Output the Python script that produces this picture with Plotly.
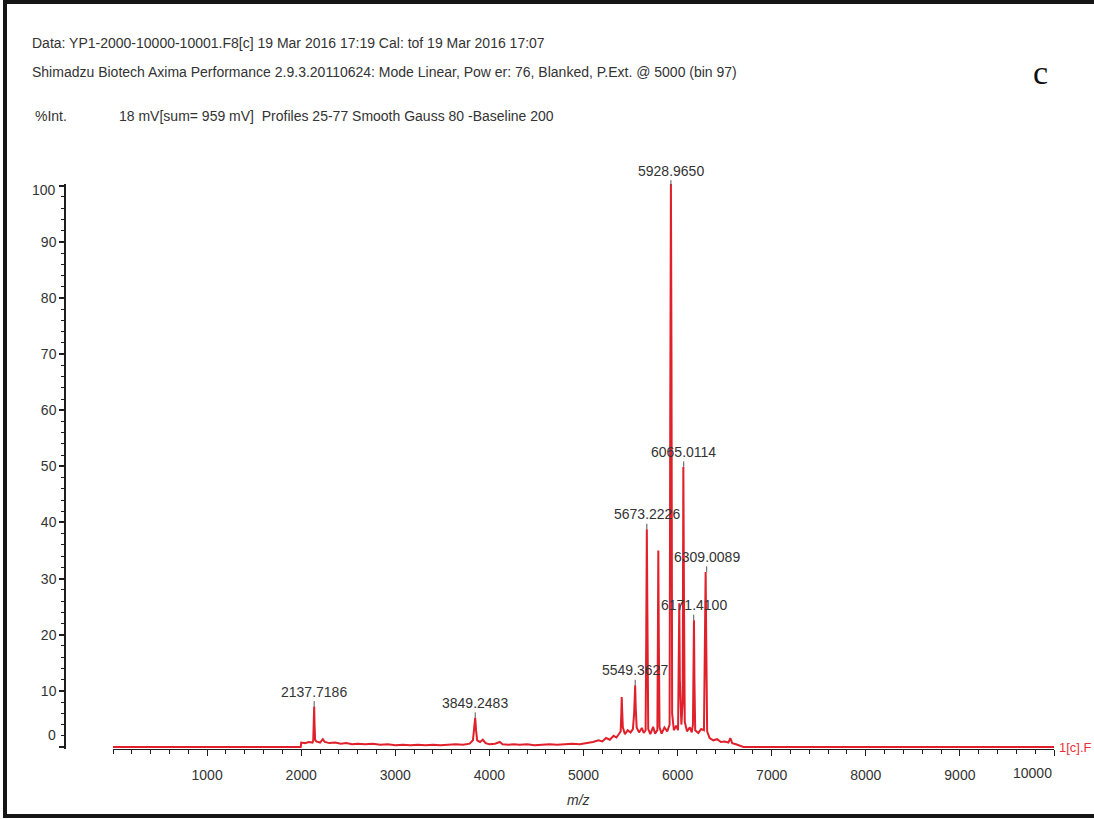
import plotly.graph_objects as go

# ---------------- data ----------------
mz_values = [
    0, 1995, 2000, 2040, 2080, 2120, 2128, 2134, 2138, 2142, 2148, 2160, 2200, 2230, 2250,
    2300, 2360, 2420, 2480, 2540, 2600, 2680, 2760, 2840, 2920, 3000, 3080, 3160, 3240,
    3320, 3400, 3480, 3560, 3640, 3720, 3790, 3825, 3838, 3849, 3858, 3870, 3900, 3930,
    3960, 4000, 4060, 4110, 4140, 4200, 4260, 4320, 4400, 4480, 4560, 4640, 4720, 4800,
    4880, 4960, 5040, 5100, 5160, 5200, 5240, 5280, 5320, 5350, 5380,
    5395, 5402, 5406, 5411, 5418, 5440, 5470, 5500, 5525, 5538, 5544, 5549, 5555, 5565,
    5590, 5620, 5640, 5660, 5667, 5673, 5679, 5688, 5710, 5740, 5760, 5785, 5790, 5795,
    5800, 5808, 5830, 5860, 5890, 5915, 5922, 5929, 5935, 5942, 5960, 5985, 6005, 6012,
    6018, 6024, 6040, 6054, 6061, 6068, 6076, 6100, 6130, 6150, 6163, 6169, 6174, 6179,
    6187, 6220, 6250, 6280, 6291, 6298, 6305, 6314, 6340, 6380, 6420, 6460, 6500, 6540,
    6560, 6580, 6620, 6660, 6700, 10000,
]
intensity_values = [
    0.0, 0.0, 0.8, 0.7, 0.9, 0.8, 1.2, 4.5, 7.2, 4.0, 1.3, 1.0, 0.8, 1.4, 0.9,
    0.7, 0.8, 0.6, 0.7, 0.5, 0.6, 0.5, 0.6, 0.4, 0.5, 0.3, 0.4, 0.3, 0.4,
    0.3, 0.4, 0.3, 0.4, 0.5, 0.4, 0.6, 1.2, 3.2, 5.2, 3.0, 1.2, 0.9, 1.3,
    0.7, 0.5, 0.6, 0.9, 0.5, 0.4, 0.5, 0.4, 0.5, 0.3, 0.4, 0.5, 0.4, 0.5,
    0.6, 0.5, 0.7, 0.9, 1.2, 1.0, 1.6, 1.3, 2.0, 1.7, 2.4,
    2.8, 6.0, 8.9, 6.5, 3.5, 2.3, 3.0, 2.6, 3.2, 6.0, 10.2, 11.0, 7.0, 3.5,
    2.6, 3.4, 2.5, 3.0, 20.0, 38.8, 24.0, 3.2, 2.3, 3.6, 2.4, 3.0, 18.0, 35.0,
    20.0, 3.5, 2.4, 3.5, 2.8, 4.0, 60.0, 100.5, 70.0, 6.0, 3.0, 3.8, 3.0, 14.0,
    25.6, 12.0, 4.0, 8.0, 49.9, 26.0, 4.5, 2.8, 3.5, 2.6, 4.0, 14.0, 22.6, 12.0,
    3.0, 2.5, 3.2, 3.0, 16.0, 31.2, 18.0, 2.8, 1.6, 1.2, 1.4, 0.9, 1.0, 0.8,
    1.6, 0.7, 0.5, 0.3, 0.0, 0.0,
]

peak_labels = ["2137.7186", "3849.2483", "5549.3627", "5673.2226",
               "5928.9650", "6065.0114", "6171.4100", "6309.0089"]
peak_mz = [2137.7186, 3849.2483, 5549.3627, 5673.2226,
           5928.9650, 6065.0114, 6171.4100, 6309.0089]
peak_intensity = [7.2, 5.2, 11.0, 38.8, 100.0, 49.9, 22.6, 31.2]

x_tick_values = [1000, 2000, 3000, 4000, 5000, 6000, 7000, 8000, 9000, 10000]
x_tick_labels = ["1000", "2000", "3000", "4000", "5000", "6000", "7000", "8000", "9000", ""]
y_tick_values = [0, 10, 20, 30, 40, 50, 60, 70, 80, 90, 100]
y_tick_labels = ["", "10", "20", "30", "40", "50", "60", "70", "80", "90", ""]

header_line1 = "Data: YP1-2000-10000-10001.F8[c] 19 Mar 2016 17:19 Cal: tof 19 Mar 2016 17:07"
header_line2 = ("Shimadzu Biotech Axima Performance 2.9.3.20110624: Mode Linear, Pow er: 76, "
                "Blanked, P.Ext. @ 5000 (bin 97)")
header_line3 = "18 mV[sum= 959 mV]  Profiles 25-77 Smooth Gauss 80 -Baseline 200"

# ---------------- styling ----------------
FONT = "Liberation Sans, Arial, sans-serif"
TXT = "#333333"
RED = "#e0202a"
AX = "#1e1e1e"
FS = 14

fig = go.Figure()
fig.add_trace(go.Scatter(
    x=mz_values, y=intensity_values, mode="lines",
    line=dict(color=RED, width=2), hoverinfo="x+y", showlegend=False,
))

annotations = []
for lab, xm, yi in zip(peak_labels, peak_mz, peak_intensity):
    annotations.append(dict(
        x=xm, y=yi, xref="x", yref="y", text=lab, showarrow=True,
        arrowhead=0, arrowwidth=1, arrowcolor="#555555", ax=0, ay=-15,
        font=dict(family=FONT, size=FS, color=TXT),
    ))

def px_x(px):
    return (px - 65) / 989.0

def px_y(py):
    return (749 - py) / 565.0

annotations += [
    dict(x=px_x(30), y=px_y(43), xref="paper", yref="paper", text=header_line1,
         showarrow=False, xanchor="left", yanchor="middle",
         font=dict(family=FONT, size=FS, color=TXT)),
    dict(x=px_x(30), y=px_y(72), xref="paper", yref="paper", text=header_line2,
         showarrow=False, xanchor="left", yanchor="middle",
         font=dict(family=FONT, size=FS, color=TXT)),
    dict(x=px_x(33), y=px_y(116), xref="paper", yref="paper", text="%Int.",
         showarrow=False, xanchor="left", yanchor="middle",
         font=dict(family=FONT, size=FS, color=TXT)),
    dict(x=px_x(117), y=px_y(116), xref="paper", yref="paper", text=header_line3,
         showarrow=False, xanchor="left", yanchor="middle",
         font=dict(family=FONT, size=FS, color=TXT)),
    dict(x=px_x(1040), y=px_y(72), xref="paper", yref="paper", text="c",
         showarrow=False, xanchor="center", yanchor="middle",
         font=dict(family="Liberation Serif, Times New Roman, serif", size=34, color="#111111")),
    dict(x=px_x(578), y=px_y(800), xref="paper", yref="paper", text="<i>m/z</i>",
         showarrow=False, xanchor="center", yanchor="middle",
         font=dict(family=FONT, size=FS, color=TXT)),
    dict(x=10000, y=px_y(773), xref="x", yref="paper", text="10000",
         showarrow=False, xanchor="right", yanchor="middle",
         font=dict(family=FONT, size=FS, color=TXT)),
    dict(x=px_x(1057), y=0, xref="paper", yref="y", text="1[c].F",
         showarrow=False, xanchor="left", yanchor="middle",
         font=dict(family=FONT, size=13, color="#e8333a")),
    dict(x=px_x(58), y=2.1, xref="paper", yref="y", text="0",
         showarrow=False, xanchor="right", yanchor="middle",
         font=dict(family=FONT, size=FS, color=TXT)),
    dict(x=px_x(58), y=99.2, xref="paper", yref="y", text="100",
         showarrow=False, xanchor="right", yanchor="middle",
         font=dict(family=FONT, size=FS, color=TXT)),
]

shapes = [dict(
    type="rect", xref="paper", yref="paper",
    x0=px_x(5), x1=px_x(1200), y0=px_y(816), y1=px_y(2),
    line=dict(color="#151515", width=4), fillcolor="rgba(0,0,0,0)", layer="above",
)]

fig.update_layout(
    width=1094, height=819,
    margin=dict(l=65, r=40, t=184, b=70),
    paper_bgcolor="white", plot_bgcolor="white",
    showlegend=False,
    annotations=annotations,
    shapes=shapes,
    xaxis=dict(
        domain=[px_x(113), 1.0], range=[0, 10000],
        showgrid=False, zeroline=False,
        showline=True, linecolor=AX, linewidth=1, layer="below traces",
        tickmode="array", tickvals=x_tick_values, ticktext=x_tick_labels,
        ticks="outside", ticklen=6, tickwidth=1, tickcolor=AX,
        ticklabelstandoff=7,
        minor=dict(tickmode="linear", tick0=0, dtick=200, ticks="outside",
                   ticklen=4, tickwidth=1, tickcolor=AX),
        tickfont=dict(family=FONT, size=FS, color=TXT),
    ),
    yaxis=dict(
        anchor="free", position=0, range=[-0.35, 100.3],
        showgrid=False, zeroline=False,
        showline=True, linecolor=AX, linewidth=1.5,
        tickmode="array", tickvals=y_tick_values, ticktext=y_tick_labels,
        ticks="outside", ticklen=5, tickwidth=1.5, tickcolor=AX,
        minor=dict(tickmode="linear", tick0=0, dtick=2, ticks="outside",
                   ticklen=3, tickwidth=1, tickcolor=AX),
        tickfont=dict(family=FONT, size=FS, color=TXT),
    ),
)

fig.write_html(
    "out.html",
    config={"displayModeBar": False},
    post_script="document.body.style.margin='0';document.body.style.overflow='hidden';",
)
